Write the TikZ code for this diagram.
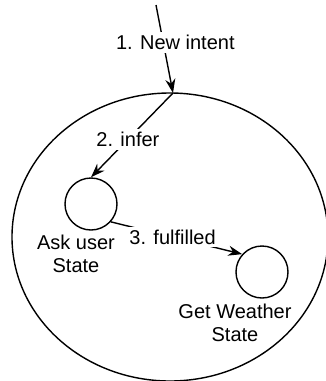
\documentclass[tikz,border=0pt]{standalone}
\usepackage{fontspec}
\setmainfont{Liberation Sans}
\usetikzlibrary{arrows.meta}
\tikzset{
  estado/.style={draw, circle, minimum size=26pt, inner sep=0pt, line width=0.7pt},
  etiq/.style={fill=white, inner sep=1.5pt, font=\fontsize{10}{11.5}\selectfont},
  texto/.style={align=center, font=\fontsize{10}{11.5}\selectfont},
  flecha/.style={-{Stealth[length=7pt,width=5pt]}, line width=0.7pt},
}
\begin{document}
\begin{tikzpicture}[x=0.5pt,y=-0.5pt]
  \useasboundingbox (0,0) rectangle (326,381);
  % Maquina de estados
  \draw[line width=0.7pt] (170,237) ellipse [x radius=79pt, y radius=72pt];

  % Estados
  \node[estado] (ask) at (91,204) {};
  \node[estado] (get) at (262,272) {};
  \node[texto] (asklbl) at (76,254) {Ask user\\State};
  \node[texto] (getlbl) at (235,323) {Get Weather\\State};

  % Entrada
  \coordinate (src) at (156,5);
  \coordinate (entry) at (173,93);

  % Transiciones
  \draw[flecha] (src) -- (entry) node[etiq, pos=0.43, xshift=6pt] {1. New intent};
  \draw[flecha] (entry) -- (ask.north) node[etiq, pos=0.55] {2. infer};
  \draw[flecha] (ask.-42) -- (get.138) node[etiq, pos=0.47] {3. fulfilled};
\end{tikzpicture}
\end{document}
